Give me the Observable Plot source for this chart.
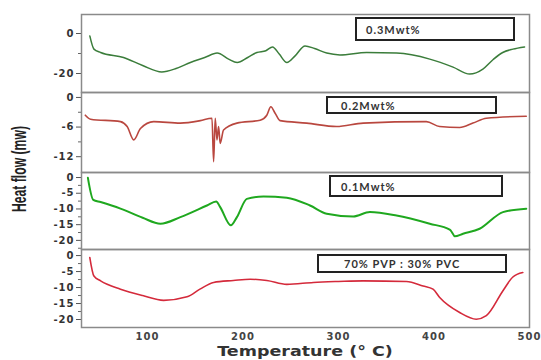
<!DOCTYPE html>
<html><head><meta charset="utf-8">
<script src="https://cdn.jsdelivr.net/npm/d3@7"></script>
<script src="https://cdn.jsdelivr.net/npm/@observablehq/plot@0.6"></script>
<style>
body{margin:0;background:#fff;}
#chart{position:relative;width:541px;height:360px;overflow:hidden;background:#fff;}
#chart svg{position:absolute;left:0;top:0;}
.legend{position:absolute;border:2px solid #222;box-sizing:border-box;font:bold 11px Lato, sans-serif;letter-spacing:1px;color:#333;display:flex;align-items:center;white-space:nowrap;background:#fff;}
.ylab{position:absolute;left:-81px;top:157px;width:200px;height:24px;line-height:24px;text-align:center;font:bold 21px "Liberation Sans", Arial, sans-serif;color:#222;transform:rotate(-90deg) scaleX(0.58);white-space:nowrap;}
.xlab{position:absolute;left:155px;top:343px;width:300px;text-align:center;font:bold 14px "DejaVu Sans", sans-serif;color:#333;transform:scaleX(1.25);white-space:nowrap;line-height:17px;}
</style></head><body><div id="chart"></div>
<script>
// Temperature (°C) and heat flow (mW)
const temp03 = [39.7, 44, 51, 75, 95, 115, 130, 145, 160, 173, 185, 194, 205, 214.6, 224, 231, 238, 246, 254.6, 265, 275, 287.7, 301.6, 329.5, 360.8, 395.6, 420, 437.4, 451.2, 462, 472, 482.6, 494.8];
const flow03 = [-1.2, -7.8, -9.5, -12, -16, -19.2, -17.5, -14.5, -12, -9.8, -12.8, -14.5, -12, -9.5, -8.6, -6.7, -10.3, -14.5, -11.2, -6.2, -7.5, -9.8, -10.7, -9.5, -9.8, -12.8, -16.8, -20.3, -17.8, -13, -9.5, -7.8, -6.7];

const temp02 = [35, 40.5, 71.8, 78.8, 85.7, 92.7, 106.6, 134.5, 155.4, 167.6, 169.3, 171, 172.8, 174.5, 176.2, 179.7, 193.7, 218, 225, 229.2, 233.7, 238.9, 266.8, 298, 325.9, 392, 405.9, 426.9, 440.8, 454.8, 496.6];
const flow02 = [-3.6, -4.4, -4.9, -5.9, -8.6, -6.3, -4.9, -5.2, -4.7, -4.2, -13.0, -4.2, -8.6, -5.9, -9.3, -6.6, -5.2, -4.6, -3.6, -1.9, -3.2, -4.7, -5.2, -5.9, -5.2, -4.9, -5.9, -6.1, -5.2, -4.2, -3.8];

const temp01 = [37.7, 43.3, 51, 71.8, 95, 113.6, 134.5, 162.3, 172, 176.2, 187.4, 193.7, 204.1, 221.5, 245.9, 270.2, 287.7, 315.5, 332.9, 360.8, 395.6, 416.5, 419, 421.7, 430.4, 447.8, 472.2, 496.6];
const flow01 = [-0.1, -7.1, -7.8, -9.9, -12.8, -14.7, -12.6, -8.9, -7.6, -9.4, -15.2, -12.6, -6.8, -6.0, -6.4, -8.9, -11.5, -12.4, -11.0, -12.1, -14.7, -16.6, -17.5, -18.7, -17.9, -16.3, -11.0, -9.9];

const temp00 = [39.7, 44, 51, 71.8, 95, 117, 141.5, 155, 169.3, 190, 207.6, 225, 245.9, 273.7, 300, 325.9, 371.2, 388.6, 399, 406, 426.9, 444.3, 454.8, 472.2, 482.6, 493];
const flow00 = [-0.6, -6.4, -7.9, -10.5, -12.5, -14.0, -12.9, -10.5, -8.4, -7.8, -7.4, -7.8, -9.0, -8.4, -8.1, -7.9, -8.1, -9.5, -10.5, -13.1, -17.8, -19.9, -18.8, -11.0, -6.7, -5.3];

const labels = ["0.3Mwt%", "0.2Mwt%", "0.1Mwt%", "70% PVP : 30% PVC"];
const colors = ["#3b7d3b", "#b9473f", "#1fa81f", "#d42a3b"];
const majorTicks = [[0, -20], [0, -6, -12], [0, -5, -10, -15, -20], [0, -5, -10, -15, -20]];
const minorTicks = [[-10], [-3, -9], [-2.5, -7.5, -12.5, -17.5, -22.5], [-2.5, -7.5, -12.5, -17.5]];
const xTicks = [100, 200, 300, 400, 500];

const panels = [
  {t: temp03, v: flow03, top: 14, bottom: 92, domain: [-29.5, 9.5], sw: 1.5, box: [355, 17, 160, 24, 9]},
  {t: temp02, v: flow02, top: 92, bottom: 172, domain: [-15.2, 1], sw: 1.6, box: [326, 96, 171, 18, 13]},
  {t: temp01, v: flow01, top: 172, bottom: 249, domain: [-22.9, 1.6], sw: 2, box: [329, 175, 174, 22, 10]},
  {t: temp00, v: flow00, top: 249, bottom: 327, domain: [-22.5, 1.9], sw: 1.6, box: [317, 254, 190, 19, 25]}
];

const chart = document.getElementById("chart");
panels.forEach((p, i) => {
  const data = p.t.map((t, j) => ({t, v: p.v[j]}));
  const last = i === panels.length - 1;
  const marks = [
    Plot.axisY({ticks: minorTicks[i], tickSize: 3, text: null, label: null, stroke: "#666"}),
    Plot.axisY({ticks: majorTicks[i], tickSize: 5, tickPadding: 2, label: null, tickFormat: d => String(d), fontWeight: "bold", fill: "#333", stroke: "#555"}),
    Plot.line(data, {x: "t", y: "v", stroke: colors[i], strokeWidth: p.sw, curve: "monotone-x"}),
    Plot.frame({stroke: "#8a8a8a", strokeWidth: 1.5})
  ];
  if (last) marks.push(Plot.axisX({ticks: xTicks, tickSize: 0, tickPadding: 5, label: null, fontWeight: "bold", fill: "#444"}));
  const svg = Plot.plot({
    width: 541, height: 360,
    marginLeft: 81, marginRight: 12, marginTop: p.top, marginBottom: 360 - p.bottom,
    style: {background: "transparent", overflow: "visible", fontFamily: "DejaVu Sans, sans-serif", fontSize: "10px", letterSpacing: "1px"},
    x: {domain: [31, 500], label: null, axis: last ? undefined : null},
    y: {domain: p.domain, label: null},
    marks
  });
  chart.appendChild(svg);
});

panels.forEach((p, i) => {
  const [l, t, w, h, pad] = p.box;
  const d = document.createElement("div");
  d.className = "legend";
  d.style.left = l + "px"; d.style.top = t + "px";
  d.style.width = w + "px"; d.style.height = h + "px";
  d.style.paddingLeft = pad + "px";
  d.textContent = labels[i];
  chart.appendChild(d);
});

const yl = document.createElement("div");
yl.className = "ylab"; yl.textContent = "Heat flow (mw)";
chart.appendChild(yl);
const xl = document.createElement("div");
xl.className = "xlab"; xl.textContent = "Temperature (° C)";
chart.appendChild(xl);
</script>
</body></html>
